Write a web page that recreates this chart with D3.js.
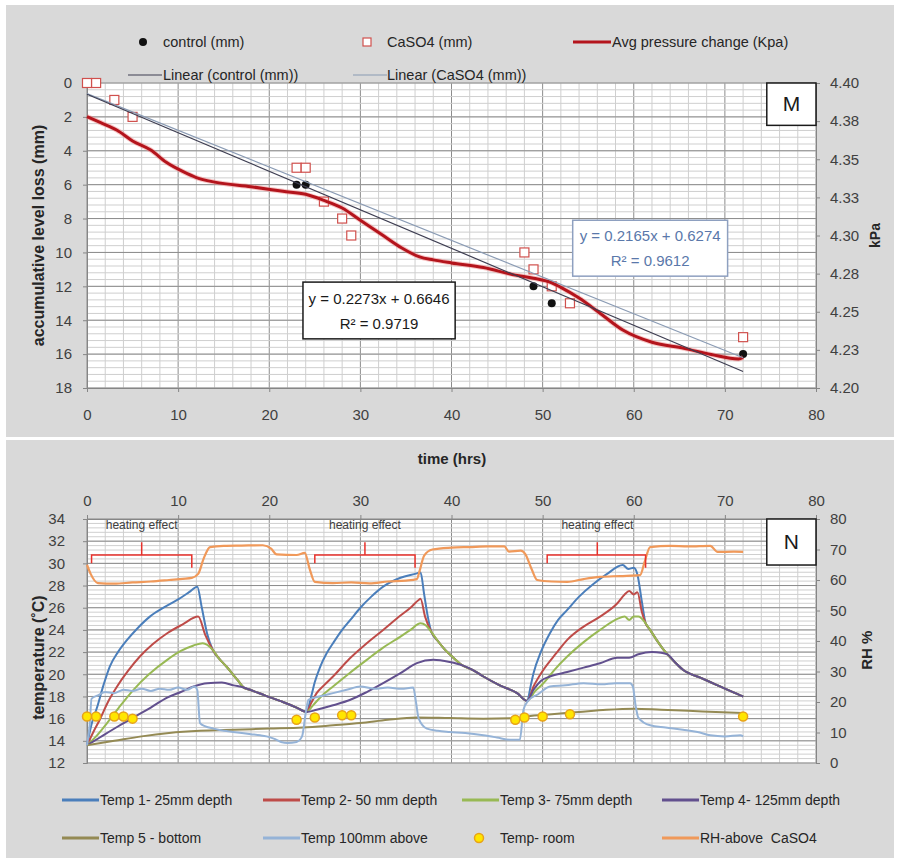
<!DOCTYPE html>
<html>
<head>
<meta charset="utf-8">
<script src="https://cdn.jsdelivr.net/npm/d3@7"></script>
<style>
  body { margin: 0; background: #fff; }
  text { font-family: "Liberation Sans", Arial, sans-serif; }
</style>
</head>
<body>
<svg id="chart" width="899" height="861"></svg>
<script>

// ---------- panel M : level loss / pressure vs time ----------
var hrsTicks = [0, 10, 20, 30, 40, 50, 60, 70, 80];
var mmTicks = [0, 2, 4, 6, 8, 10, 12, 14, 16, 18];
var kpaTicks = [4.2, 4.225, 4.25, 4.275, 4.3, 4.325, 4.35, 4.375, 4.4];
var kpaLabels = ["4.20", "4.23", "4.25", "4.28", "4.30", "4.33", "4.35", "4.38", "4.40"];

var controlHrs = [0, 1, 3, 5, 23, 24, 49, 51, 72];
var controlMm  = [0, 0, 1, 2, 6, 6, 12, 13, 16];
var caso4Hrs = [0, 1, 3, 5, 23, 24, 26, 28, 29, 48, 49, 51, 53, 72];
var caso4Mm  = [0, 0, 1, 2, 5, 5, 7, 8, 9, 10, 11, 12, 13, 15];

var pressureHrs = [0, 1.5, 3.3, 5, 7, 8.7, 10.5, 12, 14, 18, 21.5, 24, 26, 28, 30, 32.5, 34.5,
  36.5, 38, 40, 43.5, 47, 49, 51, 52, 54, 56.3, 58.8, 62, 65.5, 68.5, 71.5, 72];
var pressureKpa = [4.378, 4.374, 4.369, 4.362, 4.356, 4.348, 4.342, 4.338, 4.335, 4.332, 4.329,
  4.327, 4.323, 4.318, 4.310, 4.300, 4.292, 4.286, 4.284, 4.282, 4.279, 4.274, 4.272, 4.269,
  4.266, 4.259, 4.249, 4.238, 4.230, 4.226, 4.222, 4.219, 4.220];

// excel trendlines (slope, intercept) as printed on the chart
var trendHrs = [0, 72];
var trendControl = [0.2273, 0.6646];
var trendCaso4 = [0.2165, 0.6274];
var eqControl = ["y = 0.2273x + 0.6646", "R\u00b2 = 0.9719"];
var eqCaso4 = ["y = 0.2165x + 0.6274", "R\u00b2 = 0.9612"];

// ---------- panel N : temperatures and RH ----------
var tempTicks = [12, 14, 16, 18, 20, 22, 24, 26, 28, 30, 32, 34];
var rhTicks = [0, 10, 20, 30, 40, 50, 60, 70, 80];

// segments shared by the depth probes once they cool together
var hot1 = [[13.8,22.2],[14.5,21.4],[15.3,20.7],[16.0,20.0],[16.6,19.4]];
var cool1 = [[17.2,18.8],[17.9,18.6],[19.5,18.1],[21.5,17.5],[23,17.0]];
var hot2 = [[37.8,23.8],[38.5,23.0],[39.3,22.2],[40.2,21.5]];
var cool2 = [[41.2,20.8],[42.3,20.4],[43.5,19.8],[45.3,19.0],[47.2,18.3]];
var hot3 = [[61.3,24.6],[61.8,24.0],[62.5,23.1],[63.2,22.3]];
var cool3 = [[63.7,21.8],[64.5,21.1],[65.4,20.4],[67.3,19.7],[69.2,19.0],[71.7,18.1],[72,18.0]];

var rise1T1 = [[0,13.6],[0.5,15.5],[1.1,17.0],[1.8,19.0],[2.5,20.7],[3.4,22.0],[4.4,23.1],[5.6,24.2],
  [6.9,25.2],[8.4,26.0],[9.9,26.7],[11.2,27.4],[12.1,27.9],[12.6,26.0],[13.2,23.6]];
var rise2T1 = [[24.1,16.6],[24.6,18.0],[25.0,19.3],[25.6,20.7],[26.3,21.9],[27,22.8],[28,24.0],
  [28.9,24.9],[30,26.0],[31.2,27.0],[32.5,27.9],[34.4,28.7],[36.2,29.1],[36.6,29.2],[37.0,27.2],[37.4,25.2]];
var rise3T1 = [[48.3,17.6],[48.7,19.0],[49,20.1],[49.8,22.0],[50.8,23.7],[51.7,24.9],[52.7,25.8],
  [54,27.0],[55.5,28.1],[57,29.0],[58.8,29.85],[59.4,29.5],[60.0,29.6],[60.4,29.0],[60.9,26.5]];

var rise1T2 = [[0,13.6],[0.7,14.8],[1.4,15.9],[2.3,17.5],[3.3,18.9],[4.5,20.3],[5.8,21.6],[7.2,22.7],
  [8.8,23.7],[10.5,24.5],[12.2,25.2],[13.0,23.5]];
var rise2T2 = [[24.1,16.6],[24.6,17.4],[25.2,18.3],[26,19.0],[27,19.8],[28.8,21.4],[30.7,22.8],
  [32.5,24.0],[34.4,25.3],[35.5,26.0],[36.4,26.7],[36.6,26.8],[37.1,25.2]];
var rise3T2 = [[48.3,17.6],[49,18.9],[50,20.3],[51.5,21.9],[52.7,23.1],[54.5,24.3],[56.3,25.2],
  [58.2,26.4],[59,27.2],[59.5,27.5],[60,27.2],[60.4,27.4],[60.9,25.6]];

var rise1T3 = [[0,13.6],[1,14.4],[2.2,15.6],[3.5,17.0],[5.1,18.6],[6.8,20.0],[8.8,21.3],[10.3,22.1],
  [11.7,22.6],[12.7,22.8]];
var rise2T3 = [[24.1,16.6],[24.8,17.2],[25.7,18.0],[27,18.9],[28.8,20.1],[30.7,21.3],[32.5,22.4],
  [34.4,23.4],[35.5,24.0],[36.6,24.6],[37.2,24.4]];
var rise3T3 = [[48.3,17.6],[49.2,18.5],[50.1,19.2],[51.3,20.4],[52.7,21.6],[54.5,22.9],[56.3,24.0],
  [58.2,25.0],[59,25.2],[59.5,24.9],[60,25.2],[60.5,25.2]];

var rise1T4 = [[0,13.6],[1.4,14.3],[3.2,15.2],[5.1,16.1],[7,17.0],[8.8,17.9],[10.3,18.4],[11.7,18.9],
  [13.2,19.2],[14.8,19.25],[16.1,19.0]];
var rise2T4 = [[24.1,16.6],[25.2,16.8],[27,17.2],[28.9,17.7],[30.7,18.4],[32.5,19.2],[34.4,20.1],
  [36.2,21.0],[38,21.3],[39.8,21.1]];
var rise3T4 = [[48.3,17.6],[49,18.6],[49.8,19.4],[50.8,19.8],[52.7,20.2],[54.5,20.6],[56.3,21.0],
  [58.2,21.5],[59.5,21.5],[60.5,21.8],[62,22.0],[63.0,21.95]];

var temp1 = [].concat(rise1T1, hot1, cool1, rise2T1, hot2, cool2, rise3T1, hot3, cool3);
var temp2 = [].concat(rise1T2, hot1, cool1, rise2T2, hot2, cool2, rise3T2, hot3, cool3);
var temp3 = [].concat(rise1T3, hot1, cool1, rise2T3, hot2, cool2, rise3T3, hot3, cool3);
var temp4 = [].concat(rise1T4, cool1, rise2T4, cool2, rise3T4, cool3);

var temp5 = [[0,13.6],[3,14.0],[6,14.4],[9,14.7],[12.4,14.9],[16,15.0],[20,15.1],[23.7,15.2],[27,15.4],
  [30,15.6],[33,15.9],[36.2,16.1],[39.8,16.05],[43.5,16.0],[47.2,16.05],[48.3,16.2],[51,16.4],[54,16.6],
  [57,16.8],[60,16.9],[63,16.8],[66,16.7],[69,16.6],[72,16.5]];

var temp100 = [[0,13.6],[0.3,15.5],[0.5,17.8],[1.2,18.1],[2,18.4],[3,18.3],[4,18.6],[5,18.5],[6,18.7],
  [7,18.5],[8,18.7],[9,18.6],[10,18.8],[11,18.6],[11.8,18.9],[12.1,18.6],[12.4,15.6],[13,15.3],
  [13.9,15.1],[15,14.9],[16,14.8],[17,14.7],[18,14.6],[19,14.5],[19.7,14.4],[20.5,14.2],[21.3,13.9],
  [22,13.8],[23,13.9],[23.6,14.4],[24.0,16.5],[24.3,17.7],[25.5,18.0],[27,18.3],[28.5,18.6],[30,18.9],
  [31.5,18.7],[33,18.8],[34.5,18.7],[35.8,18.8],[36.1,17.5],[36.4,16.0],[37.3,15.1],[38.5,14.9],
  [39.8,14.8],[41.5,14.7],[43.5,14.5],[45,14.3],[46.4,14.1],[47.5,14.1],[47.9,16.8],[48.4,17.6],
  [49.5,18.2],[50.8,18.9],[52.5,19.0],[54.5,19.2],[56.5,19.1],[58,19.2],[59.6,19.2],[59.9,18.9],
  [60.2,17.2],[60.5,16.1],[61.8,15.4],[63.5,15.2],[65.4,15.0],[67,14.8],[68.4,14.5],[70,14.4],
  [71.7,14.5],[72,14.4]];

var tempRoom = [[0,16.2],[1,16.2],[3,16.2],[4,16.2],[5,16.0],[23,15.9],[25,16.1],[28,16.3],[29,16.3],
  [47,15.9],[48,16.1],[50,16.2],[53,16.4],[72,16.2]];

var rhCaso4 = [[0,65],[0.4,62],[1.2,59],[3,58.8],[5,59.2],[7,59.5],[9,60],[10.5,60.4],[11.5,60.7],
  [12.2,62],[12.8,67],[13.5,70.8],[15,71.2],[17,71.3],[19.3,71.4],[20.2,70.3],[20.8,68.4],[23,68.2],
  [23.9,68.9],[24.4,64],[25,59.4],[27,59.0],[29,59.2],[31,58.9],[33,59.5],[35,59.8],[36.2,60.3],
  [36.5,63],[37,68],[37.9,70],[40,70.6],[42,70.8],[44,71],[45.8,71],[46.3,69.3],[47.6,69.6],[48.1,68.5],
  [48.8,63.5],[49.4,60],[51,59.5],[52.7,59.4],[54.5,60.3],[56.3,61],[58.5,61.3],[60.7,61.6],[61.2,66],
  [61.8,70.8],[64,71.2],[66,71.0],[68.4,71.2],[69.2,69.2],[71,69.3],[72,69.2]];

// heating effect brackets: start, end, middle (hrs)
var heatingSpans = [[0.5, 11.5, 6], [25, 36, 30.5], [50.5, 61.3, 56]];

// ---------- drawing ----------
var svg = d3.select("#chart");

var x = d3.scaleLinear().domain([0, 80]).range([87, 816]);
var yMm = d3.scaleLinear().domain([0, 18]).range([83, 388]);
var yKpa = d3.scaleLinear().domain([4.2, 4.4]).range([388, 83]);
var yTemp = d3.scaleLinear().domain([12, 34]).range([763, 519]);
var yRh = d3.scaleLinear().domain([0, 80]).range([763, 519]);

svg.append("rect").attr("x", 6).attr("y", 5).attr("width", 888).attr("height", 432).attr("fill", "#d9d9d9");
svg.append("rect").attr("x", 6).attr("y", 440).attr("width", 888).attr("height", 418).attr("fill", "#d9d9d9");

function grid(ys, vMinor, hMinor, vMajor, hMajor) {
  var g = svg.append("g");
  var top = d3.min(ys.range()), bottom = d3.max(ys.range());
  g.append("rect")
    .attr("x", x(0)).attr("y", top)
    .attr("width", x(80) - x(0)).attr("height", bottom - top)
    .attr("fill", "#fff");
  [[vMinor, "#cfcfcf"], [vMajor, "#8c8c8c"]].forEach(function(p) {
    g.selectAll(null).data(p[0]).enter().append("line")
      .attr("x1", function(d) { return x(d); }).attr("x2", function(d) { return x(d); })
      .attr("y1", top).attr("y2", bottom)
      .attr("stroke", p[1]).attr("stroke-width", 1);
  });
  [[hMinor, "#cfcfcf"], [hMajor, "#8c8c8c"]].forEach(function(p) {
    g.selectAll(null).data(p[0]).enter().append("line")
      .attr("x1", x(0)).attr("x2", x(80))
      .attr("y1", function(d) { return ys(d); }).attr("y2", function(d) { return ys(d); })
      .attr("stroke", p[1]).attr("stroke-width", 1);
  });
}

function styleAxis(g) {
  g.attr("font-size", 15).attr("font-family", "'Liberation Sans', Arial, sans-serif");
  g.select(".domain").attr("stroke", "#868686");
  g.selectAll(".tick line").attr("stroke", "#868686");
  g.selectAll(".tick text").attr("fill", "#404040");
}

var minorHrs = d3.range(0, 81, 2).filter(function(d) { return d % 10 !== 0; });

// ---- panel M ----
grid(yMm, minorHrs, d3.range(0, 18.01, 0.4), hrsTicks, mmTicks);

svg.append("g").attr("transform", "translate(" + x(0) + ",0)")
  .call(d3.axisLeft(yMm).tickValues(mmTicks).tickSize(4).tickPadding(11))
  .call(styleAxis);
svg.append("g").attr("transform", "translate(" + x(80) + ",0)")
  .call(d3.axisRight(yKpa).tickValues(kpaTicks).tickSize(4).tickPadding(10)
    .tickFormat(function(d, i) { return kpaLabels[i]; }))
  .call(styleAxis);
svg.append("g").attr("transform", "translate(0," + yMm(18) + ")")
  .call(d3.axisBottom(x).tickValues(hrsTicks).tickSize(4).tickPadding(17))
  .call(styleAxis);

svg.append("text").attr("transform", "translate(44," + yMm(9) + ") rotate(-90)")
  .attr("text-anchor", "middle").attr("font-size", 16).attr("font-weight", "bold").attr("fill", "#262626")
  .text("accumulative level loss (mm)");
svg.append("text").attr("transform", "translate(880," + yMm(9) + ") rotate(-90)")
  .attr("text-anchor", "middle").attr("font-size", 14).attr("font-weight", "bold").attr("fill", "#262626")
  .text("kPa");

// control dots under the open squares
svg.append("g").selectAll("circle").data(controlHrs).enter().append("circle")
  .attr("cx", function(d) { return x(d); })
  .attr("cy", function(d, i) { return yMm(controlMm[i]); })
  .attr("r", 4).attr("fill", "#111");

svg.append("g").selectAll("rect").data(caso4Hrs).enter().append("rect")
  .attr("x", function(d) { return x(d) - 4.5; })
  .attr("y", function(d, i) { return yMm(caso4Mm[i]) - 4.5; })
  .attr("width", 9).attr("height", 9)
  .attr("fill", "#fff").attr("stroke", "#d0504d").attr("stroke-width", 1.2);

var pressureLine = d3.line()
  .x(function(d) { return x(d); })
  .y(function(d, i) { return yKpa(pressureKpa[i]); })
  .curve(d3.curveMonotoneX);
svg.append("path").datum(pressureHrs).attr("d", pressureLine)
  .attr("fill", "none").attr("stroke", "#f08080").attr("stroke-width", 5).attr("opacity", 0.45);
svg.append("path").datum(pressureHrs).attr("d", pressureLine)
  .attr("fill", "none").attr("stroke", "#b4141c").attr("stroke-width", 3);

function trendPath(coef, color) {
  svg.append("path").datum(trendHrs)
    .attr("d", d3.line()
      .x(function(d) { return x(d); })
      .y(function(d) { return yMm(coef[0] * d + coef[1]); }))
    .attr("fill", "none").attr("stroke", color).attr("stroke-width", 1.2);
}
trendPath(trendCaso4, "#8a9bb4");
trendPath(trendControl, "#3e3e52");

function eqBox(lines, x0, x1, y0, y1, color, border) {
  var bx = x(x0), by = yMm(y0), bw = x(x1) - x(x0), bh = yMm(y1) - yMm(y0);
  svg.append("rect").attr("x", bx).attr("y", by).attr("width", bw).attr("height", bh)
    .attr("fill", "#fff").attr("stroke", border).attr("stroke-width", 1.5);
  svg.selectAll(null).data(lines).enter().append("text")
    .attr("x", bx + bw / 2).attr("y", function(d, i) { return by + bh * 0.38 + i * 25; })
    .attr("text-anchor", "middle").attr("font-size", 15).attr("fill", color)
    .text(function(d) { return d; });
}
eqBox(eqControl, 23.7, 40.4, 11.75, 15.1, "#1a1a1a", "#1a1a1a");
eqBox(eqCaso4, 53.3, 70.3, 8.1, 11.4, "#5a78aa", "#8ea0c0");

function letterBox(label, ys, v0, v1) {
  svg.append("rect").attr("x", x(74.6)).attr("y", ys(v0))
    .attr("width", x(80) - x(74.6)).attr("height", ys(v1) - ys(v0))
    .attr("fill", "#fff").attr("stroke", "#1a1a1a").attr("stroke-width", 1.5);
  svg.append("text").attr("x", (x(74.6) + x(80)) / 2).attr("y", (ys(v0) + ys(v1)) / 2 + 7)
    .attr("text-anchor", "middle").attr("font-size", 21).attr("fill", "#1a1a1a").text(label);
}
letterBox("M", yMm, 0, 2.5);

// top legend
var lg = svg.append("g").attr("font-size", 14.5).attr("fill", "#262626");
lg.append("circle").attr("cx", 143).attr("cy", 42).attr("r", 4).attr("fill", "#111");
lg.append("text").attr("x", 163).attr("y", 47).text("control (mm)");
lg.append("rect").attr("x", 363).attr("y", 38).attr("width", 8).attr("height", 8)
  .attr("fill", "#fff").attr("stroke", "#d0504d").attr("stroke-width", 1.2);
lg.append("text").attr("x", 387).attr("y", 47).text("CaSO4 (mm)");
lg.append("line").attr("x1", 573).attr("x2", 611).attr("y1", 42).attr("y2", 42)
  .attr("stroke", "#b4141c").attr("stroke-width", 3);
lg.append("text").attr("x", 612).attr("y", 47).text("Avg pressure change (Kpa)");
lg.append("line").attr("x1", 128).attr("x2", 162).attr("y1", 75).attr("y2", 75)
  .attr("stroke", "#3e3e52").attr("stroke-width", 1.2);
lg.append("text").attr("x", 163).attr("y", 80).text("Linear (control (mm))");
lg.append("line").attr("x1", 353).attr("x2", 387).attr("y1", 75).attr("y2", 75)
  .attr("stroke", "#8a9bb4").attr("stroke-width", 1.2);
lg.append("text").attr("x", 387).attr("y", 80).text("Linear (CaSO4 (mm))");

// ---- panel N ----
grid(yTemp, minorHrs, d3.range(12, 34.01, 0.4), hrsTicks, tempTicks);

svg.append("g").attr("transform", "translate(" + x(0) + ",0)")
  .call(d3.axisLeft(yTemp).tickValues(tempTicks).tickSize(4).tickPadding(18))
  .call(styleAxis);
svg.append("g").attr("transform", "translate(" + x(80) + ",0)")
  .call(d3.axisRight(yRh).tickValues(rhTicks).tickSize(4).tickPadding(10))
  .call(styleAxis);
svg.append("g").attr("transform", "translate(0," + yTemp(34) + ")")
  .call(d3.axisTop(x).tickValues(hrsTicks).tickSize(4).tickPadding(9))
  .call(styleAxis);

svg.append("text").attr("x", 452).attr("y", 464)
  .attr("text-anchor", "middle").attr("font-size", 15).attr("font-weight", "bold").attr("fill", "#262626")
  .text("time (hrs)");
svg.append("text").attr("transform", "translate(44," + yTemp(21.5) + ") rotate(-90)")
  .attr("text-anchor", "middle").attr("font-size", 16).attr("font-weight", "bold").attr("fill", "#262626")
  .text("temperature (\u02daC)");
svg.append("text").attr("transform", "translate(872," + yRh(37) + ") rotate(-90)")
  .attr("text-anchor", "middle").attr("font-size", 15).attr("font-weight", "bold").attr("fill", "#262626")
  .text("RH %");

var tempLine = d3.line()
  .x(function(d) { return x(d[0]); })
  .y(function(d) { return yTemp(d[1]); })
  .curve(d3.curveMonotoneX);
var rhLine = d3.line()
  .x(function(d) { return x(d[0]); })
  .y(function(d) { return yRh(d[1]); })
  .curve(d3.curveMonotoneX);

var tempSeries = [
  {pts: temp1, color: "#4a7ebb"},
  {pts: temp2, color: "#be4b48"},
  {pts: temp3, color: "#98b954"},
  {pts: temp4, color: "#62508e"},
  {pts: temp5, color: "#948a54"},
  {pts: temp100, color: "#95b3d7"}
];
svg.append("g").selectAll("path").data(tempSeries).enter().append("path")
  .attr("d", function(d) { return tempLine(d.pts); })
  .attr("fill", "none").attr("stroke", function(d) { return d.color; })
  .attr("stroke-width", 2).attr("stroke-linejoin", "round");

svg.append("g").selectAll("circle").data(tempRoom).enter().append("circle")
  .attr("cx", function(d) { return x(d[0]); })
  .attr("cy", function(d) { return yTemp(d[1]); })
  .attr("r", 4.5).attr("fill", "#ffe600").attr("stroke", "#e8a317").attr("stroke-width", 1.5);

svg.append("path").datum(rhCaso4).attr("d", rhLine)
  .attr("fill", "none").attr("stroke", "#f0995a").attr("stroke-width", 2.2).attr("stroke-linejoin", "round");

// heating effect brackets
var hb = svg.append("g").selectAll("g").data(heatingSpans).enter().append("g");
hb.append("path")
  .attr("d", function(d) {
    return "M" + x(d[0]) + "," + yTemp(30.0) + "V" + yTemp(30.75) + "H" + x(d[1]) + "V" + yTemp(29.6) +
      "M" + x(d[2]) + "," + yTemp(30.75) + "V" + yTemp(31.9);
  })
  .attr("fill", "none").attr("stroke", "#e8312b").attr("stroke-width", 1.5);
hb.append("text")
  .attr("x", function(d) { return x(d[2]); }).attr("y", yTemp(33.1))
  .attr("text-anchor", "middle").attr("font-size", 12).attr("fill", "#404040")
  .text("heating effect");

letterBox("N", yTemp, 34, 29.85);

// bottom legend
var bl = svg.append("g").attr("font-size", 14).attr("fill", "#262626");
var legendRow1 = [["Temp 1- 25mm depth", "#4a7ebb", 62], ["Temp 2- 50 mm depth", "#be4b48", 263],
  ["Temp 3- 75mm depth", "#98b954", 462], ["Temp 4- 125mm depth", "#62508e", 662]];
var legendRow2 = [["Temp 5 - bottom", "#948a54", 62], ["Temp 100mm above", "#95b3d7", 263],
  ["RH-above  CaSO4", "#f0995a", 662]];
[[legendRow1, 800], [legendRow2, 838]].forEach(function(r) {
  var it = bl.selectAll(null).data(r[0]).enter().append("g");
  it.append("line")
    .attr("x1", function(d) { return d[2]; }).attr("x2", function(d) { return d[2] + 37; })
    .attr("y1", r[1]).attr("y2", r[1])
    .attr("stroke", function(d) { return d[1]; }).attr("stroke-width", 3);
  it.append("text")
    .attr("x", function(d) { return d[2] + 38; }).attr("y", r[1] + 5)
    .attr("xml:space", "preserve")
    .text(function(d) { return d[0]; });
});
bl.append("circle").attr("cx", 479).attr("cy", 838).attr("r", 4.5)
  .attr("fill", "#ffe600").attr("stroke", "#e8a317").attr("stroke-width", 1.5);
bl.append("text").attr("x", 500).attr("y", 843).text("Temp- room");

</script>
</body>
</html>
